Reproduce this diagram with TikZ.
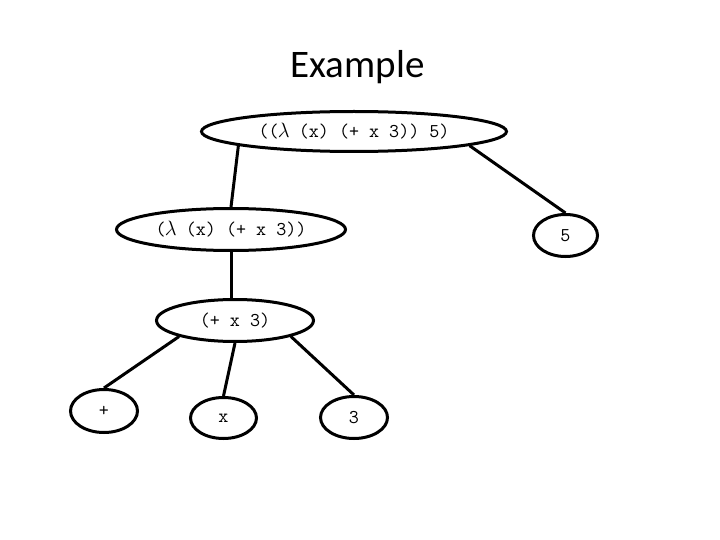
\documentclass[tikz,border=0pt]{standalone}
\usepackage{fontspec}
\setmainfont{Carlito}
\usetikzlibrary{shapes.geometric}
\newcommand{\lam}{\makebox[0.525em]{$\lambda$}}
\tikzset{
  treenode/.style={draw=black, line width=3pt, ellipse, inner sep=0pt,
    font=\ttfamily\fontsize{19.5}{22}\selectfont},
  edge/.style={draw=black, line width=3pt}
}
\begin{document}
\begin{tikzpicture}[x=1pt,y=-1pt]
\useasboundingbox (0,0) rectangle (720,540);
\node[font=\fontsize{39}{46}\selectfont, anchor=base] (title) at (357.5,78) {Example};
\node[treenode, minimum width=305pt, minimum height=40pt] (top) at (354,131.5) {((\lam{} (x) (+ x 3)) 5)};
\node[treenode, minimum width=229pt, minimum height=42pt] (lam) at (231,229.5) {(\lam{} (x) (+ x 3))};
\node[treenode, minimum width=64pt, minimum height=42pt] (five) at (565.5,235.5) {5};
\node[treenode, minimum width=157pt, minimum height=42pt] (plus3) at (235,320.5) {(+ x 3)};
\node[treenode, minimum width=67pt, minimum height=43pt] (plus) at (104,411) {+};
\node[treenode, minimum width=66pt, minimum height=41pt] (xn) at (223.5,418) {x};
\node[treenode, minimum width=67pt, minimum height=42pt] (three) at (354,417.5) {3};
\draw[edge] (top.187) -- (lam.north);
\draw[edge] (top.-7) -- (five.north);
\draw[edge] (lam.south) -- (lam.south |- plus3.north);
\draw[edge] (plus3.196) -- (plus.north);
\draw[edge] (plus3.south) -- (xn.north);
\draw[edge] (plus3.-16) -- (three.north);
\end{tikzpicture}
\end{document}
